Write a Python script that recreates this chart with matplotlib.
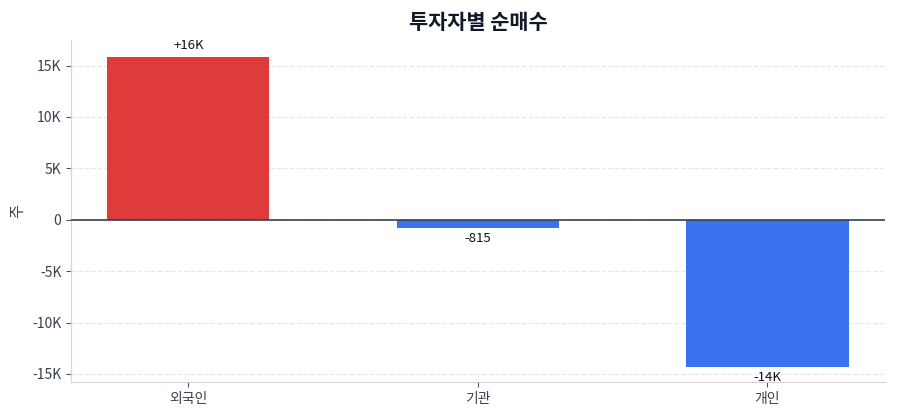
import numpy as np
import matplotlib
matplotlib.use('Agg')
import matplotlib.pyplot as plt
from matplotlib.ticker import FuncFormatter

plt.rcParams['font.family'] = ['Noto Sans CJK KR', 'DejaVu Sans']
plt.rcParams['axes.unicode_minus'] = False

investors = ['외국인', '기관', '개인']
net_buy = [15870, -815, -14300]
bar_labels = ['+16K', '-815', '-14K']


def fmt_k(v, pos):
    if v == 0:
        return '0'
    return f'{v / 1000:.0f}K'


fig = plt.figure(figsize=(9, 4.2), dpi=100)
ax = fig.add_axes([0.079, 0.09, 0.904, 0.815])

x = np.arange(len(investors))
colors = ['#dc2626' if v > 0 else '#2563eb' for v in net_buy]
bars = ax.bar(x, net_buy, width=0.56, color=colors, alpha=0.9, zorder=3)

for b, v, lab in zip(bars, net_buy, bar_labels):
    if v >= 0:
        ax.annotate(lab, (b.get_x() + b.get_width() / 2, v), xytext=(0, 3),
                    textcoords='offset points', ha='center', va='bottom',
                    fontsize=9.5, color='#111111')
    else:
        ax.annotate(lab, (b.get_x() + b.get_width() / 2, v), xytext=(0, -3),
                    textcoords='offset points', ha='center', va='top',
                    fontsize=9.5, color='#111111')

ax.axhline(0, color='#374151', linewidth=1.2, zorder=4)
ax.set_xlim(-0.405, 2.405)
ax.set_ylim(-15800, 17500)
ax.set_yticks([-15000, -10000, -5000, 0, 5000, 10000, 15000])
ax.yaxis.set_major_formatter(FuncFormatter(fmt_k))
ax.set_xticks(x)
ax.set_xticklabels(investors)

ax.grid(axis='y', linestyle='--', color='#e5e7eb', linewidth=0.9, zorder=0)
ax.set_axisbelow(True)
for s in ['top', 'right']:
    ax.spines[s].set_visible(False)
for s in ['left', 'bottom']:
    ax.spines[s].set_color('#d1d5db')
ax.tick_params(colors='#4b5563', labelsize=10, labelcolor='#374151')

ax.set_ylabel('주', fontsize=11, color='#374151')
ax.set_title('투자자별 순매수', fontsize=15, fontweight='bold',
             color='#111827', pad=8)

fig.savefig('out.png', dpi=100)
